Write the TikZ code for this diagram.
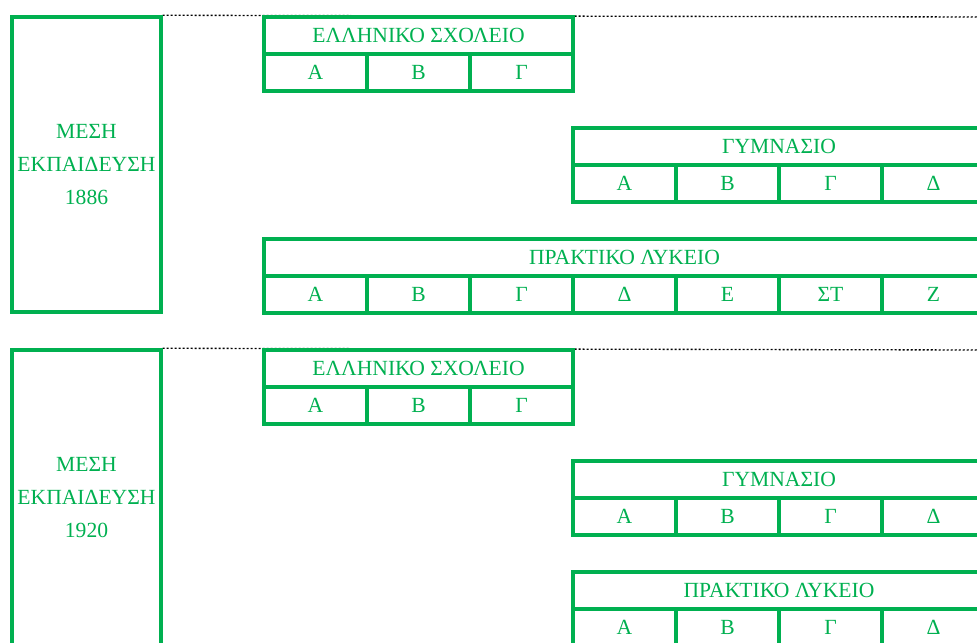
\documentclass[tikz,border=0pt]{standalone}
\usepackage{fontspec}
\setmainfont{Liberation Serif}
\definecolor{sgreen}{RGB}{0,176,80}
\tikzset{
  cell/.style={draw=sgreen, line width=2.6pt, rectangle, inner sep=0pt, text=sgreen,
    font=\fontsize{16.2}{24.4}\selectfont, minimum height=27.75pt, minimum width=77.25pt},
  wide/.style={minimum width=#1*0.75pt},
  bigbox/.style={cell, minimum width=111.75pt, minimum height=221.25pt, align=center},
  dotline/.style={draw=black, line width=1pt, dash pattern=on 1.5pt off 1.5pt}
}
\begin{document}
\begin{tikzpicture}[x=0.75pt,y=-0.75pt]
\useasboundingbox (0,0) rectangle (977,642);
\foreach \g/\yo/\yr in {a/0/1886,b/333/1920}{
  \coordinate (\g end) at (977,17+\yo);
  \node[bigbox] (\g L) at (86.5,164.5+\yo) {ΜΕΣΗ\\ΕΚΠΑΙΔΕΥΣΗ\\\yr};
  \draw[dotline] (\g L.north east) -- (\g end);
  \node[bigbox] at (\g L) {};
  % ELLINIKO SXOLEIO
  \node[cell, wide=309] (\g EH) at (418.5,35.5+\yo) {ΕΛΛΗΝΙΚΟ ΣΧΟΛΕΙΟ};
  \node[cell] (\g E1) at (315.5,72.5+\yo) {Α};
  \node[cell] (\g E2) at (418.5,72.5+\yo) {Β};
  \node[cell] (\g E3) at (521.5,72.5+\yo) {Γ};
  % GYMNASIO
  \node[cell, wide=412] (\g GH) at (779,146.5+\yo) {ΓΥΜΝΑΣΙΟ};
  \node[cell] (\g G1) at (624.5,183.5+\yo) {Α};
  \node[cell] (\g G2) at (727.5,183.5+\yo) {Β};
  \node[cell] (\g G3) at (830.5,183.5+\yo) {Γ};
  \node[cell] (\g G4) at (933.5,183.5+\yo) {Δ};
}
% PRAKTIKO LYKEIO 1886
\node[cell, wide=721] (aPH) at (624.5,257.5) {ΠΡΑΚΤΙΚΟ ΛΥΚΕΙΟ};
\node[cell] (aP1) at (315.5,294.5) {Α};
\node[cell] (aP2) at (418.5,294.5) {Β};
\node[cell] (aP3) at (521.5,294.5) {Γ};
\node[cell] (aP4) at (624.5,294.5) {Δ};
\node[cell] (aP5) at (727.5,294.5) {Ε};
\node[cell] (aP6) at (830.5,294.5) {ΣΤ};
\node[cell] (aP7) at (933.5,294.5) {Ζ};
% PRAKTIKO LYKEIO 1920
\node[cell, wide=412] (bPH) at (779,590.5) {ΠΡΑΚΤΙΚΟ ΛΥΚΕΙΟ};
\node[cell] (bP1) at (624.5,627.5) {Α};
\node[cell] (bP2) at (727.5,627.5) {Β};
\node[cell] (bP3) at (830.5,627.5) {Γ};
\node[cell] (bP4) at (933.5,627.5) {Δ};
\end{tikzpicture}
\end{document}
